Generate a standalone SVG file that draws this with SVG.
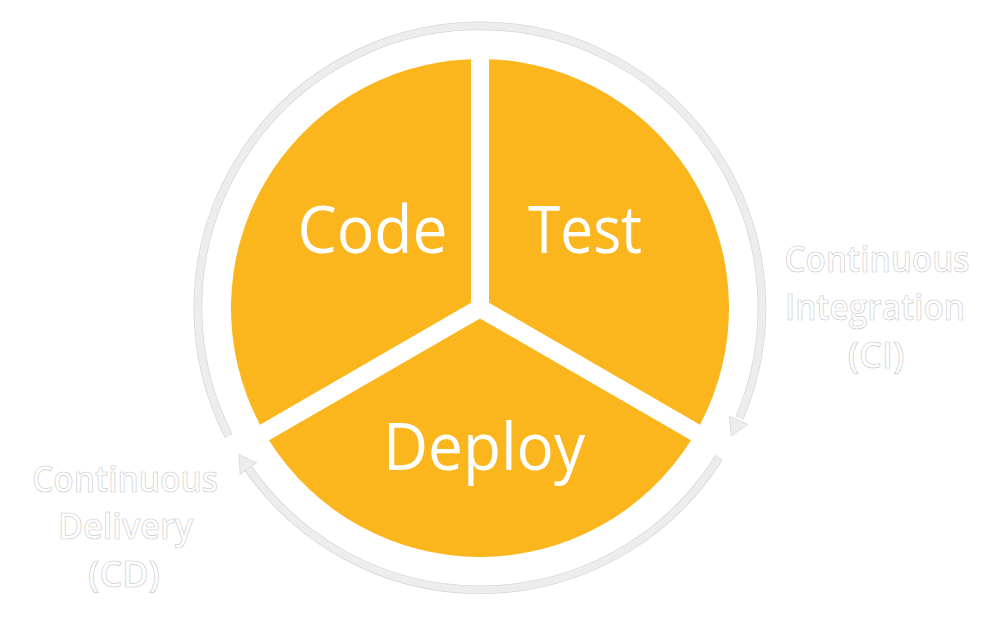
<svg xmlns="http://www.w3.org/2000/svg" width="1000" height="623" viewBox="0 0 1000 623">
  <style>
    .sector { fill: #FBB61E; }
    .label { font-family: "Open Sans", "Noto Sans", "Liberation Sans", sans-serif; font-size: 66px; fill: #FFFFFF; text-anchor: middle; }
    .side { font-family: "Open Sans", "Noto Sans", "Liberation Sans", sans-serif; font-size: 36px; font-weight: 600; fill: #FFFFFF; stroke: #CDCDCD; stroke-width: 0.7; text-anchor: middle; }
    .ring-under { fill: none; stroke: #D6D6D6; stroke-width: 8.6; }
    .ring { fill: none; stroke: #EDEDED; stroke-width: 7.2; }
    .head { fill: #EDEDED; stroke: #D6D6D6; stroke-width: 0.8; stroke-linejoin: miter; }
  </style>
  <rect x="0" y="0" width="1000" height="623" fill="#FFFFFF"/>

  <g id="connectors">
    <g id="ci-arc">
      <path class="ring-under" d="M228.7,436.0 A282,282 0 1,1 739.5,418.0"/>
      <path class="ring" d="M228.7,436.0 A282,282 0 1,1 739.5,418.0"/>
      <polygon class="head" points="731.3,436.0 747.8,424.4 729.4,416.4"/>
    </g>
    <g id="cd-arc">
      <path class="ring-under" d="M719.1,457.4 A282,282 0 0,1 247.3,467.0"/>
      <path class="ring" d="M719.1,457.4 A282,282 0 0,1 247.3,467.0"/>
      <polygon class="head" points="239.0,454.5 256.5,463.0 240.1,474.4"/>
    </g>
  </g>

  <g id="node-code">
    <path class="sector" d="M471,302.8 L260,424.63 A249,249 0 0,1 471,59.16 Z"/>
    <text class="label" x="372.5" y="253" textLength="150" lengthAdjust="spacingAndGlyphs">Code</text>
  </g>
  <g id="node-test">
    <path class="sector" d="M489,302.8 L489,59.16 A249,249 0 0,1 700,424.63 Z"/>
    <text class="label" x="585" y="253" textLength="114" lengthAdjust="spacingAndGlyphs">Test</text>
  </g>
  <g id="node-deploy">
    <path class="sector" d="M480,318.39 L691,440.21 A249,249 0 0,1 269,440.21 Z"/>
    <text class="label" x="484" y="470" textLength="202" lengthAdjust="spacingAndGlyphs">Deploy</text>
  </g>

  <g id="label-ci">
    <text class="side" x="877" y="271.5" textLength="185" lengthAdjust="spacingAndGlyphs">Continuous</text>
    <text class="side" x="875" y="320" textLength="180" lengthAdjust="spacingAndGlyphs">Integration</text>
    <text class="side" x="876" y="368">(CI)</text>
  </g>
  <g id="label-cd">
    <text class="side" x="125" y="491.5" textLength="186" lengthAdjust="spacingAndGlyphs">Continuous</text>
    <text class="side" x="125.5" y="539" textLength="135" lengthAdjust="spacingAndGlyphs">Delivery</text>
    <text class="side" x="124" y="587">(CD)</text>
  </g>
</svg>
